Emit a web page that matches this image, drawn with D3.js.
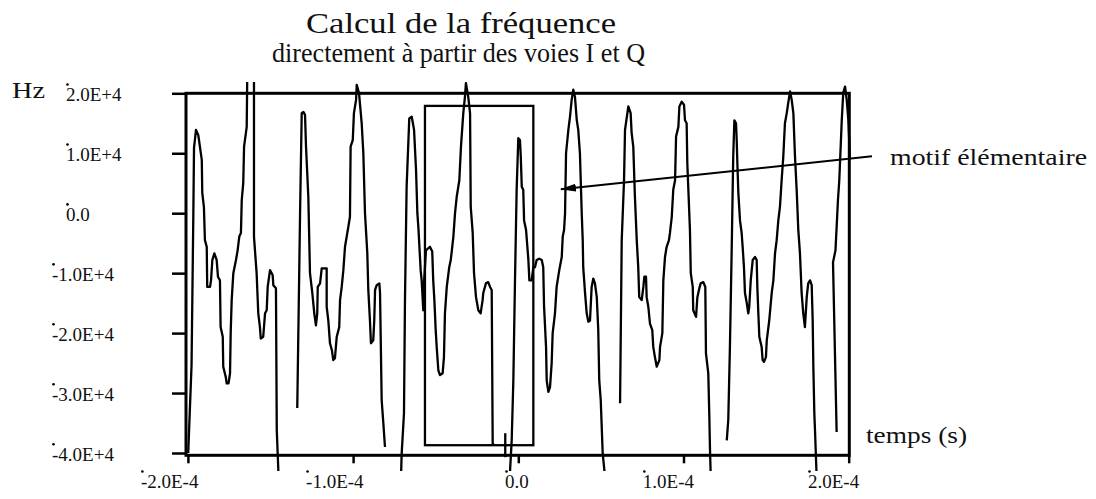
<!doctype html>
<html>
<head>
<meta charset="utf-8">
<title>Calcul de la fréquence</title>
<script src="https://d3js.org/d3.v7.min.js"></script>
<style>
  body { margin: 0; background: #fff; }
  svg { display: block; }
  text { font-family: "Liberation Serif", "Times New Roman", serif; fill: #111; }
</style>
</head>
<body>
<svg id="chart" width="1096" height="499"></svg>
<script>
// trace: time in microseconds, frequency in kHz, one sub-array per visible piece
const tUs = [
  [-199.8, -197.8, -196.7, -196.3, -195.1, -193.7, -191.6, -191.3, -190.3, -189.7, -188.6, -188.3, -186.6, -186.0, -185.2, -184.0, -182.6, -181.8, -180.6, -180.2, -178.9, -178.6, -177.1, -176.5, -175.4, -174.5, -174.1, -173.5, -172.5, -170.9, -169.9, -168.9, -167.9, -167.4, -166.5, -166.0, -164.4, -164.0, -160.0, -160.0, -158.4, -157.4, -156.4, -155.9, -154.4, -153.3, -152.3, -151.7, -150.3, -148.7, -148.3, -146.7, -146.2, -145.1],
  [-133.8, -132.1, -131.1, -130.1, -129.1, -128.5, -127.1, -126.1, -124.7, -123.5, -122.5, -121.7, -121.4, -120.0, -119.0, -116.0, -116.0, -115.0, -114.0, -112.8, -112.0, -111.0, -109.9, -108.4, -107.9, -106.9, -105.9, -104.9, -102.9, -101.9, -101.5, -100.2, -99.5, -98.2, -97.8, -96.4, -94.8, -93.8, -92.8, -91.4, -90.8, -89.8, -89.2, -87.8, -87.2, -86.7, -85.7, -84.1, -83.7, -82.7, -81.7, -80.7],
  [-71.0, -70.6, -69.2, -68.6, -67.6, -66.0, -64.5, -63.1, -61.9, -61.1, -60.5, -59.1, -58.5, -57.5, -57.1, -55.9, -53.5, -52.1, -51.5, -50.8, -50.0, -49.4, -48.4, -47.4, -45.8, -45.0, -44.4, -43.3, -41.8, -40.9, -40.3, -39.3, -38.3, -37.3, -35.7, -34.7, -33.3, -32.3, -31.7, -30.3, -29.2, -28.8, -27.6, -26.8, -25.6, -24.2, -22.8, -21.6, -21.2, -19.6, -18.2, -17.1, -16.1, -15.5, -14.7],
  [-7.9, -7.9],
  [-5.2, -4.0, -3.0, -2.0, -1.0, 0.0, 1.0, 1.5, 2.1, 3.0, 3.5, 4.7, 6.1, 6.7, 8.1, 9.1, 10.1, 11.1, 12.7, 14.2, 15.1, 15.6, 16.8, 17.2, 18.2, 19.2, 20.2, 20.8, 22.2, 23.2, 24.8, 26.3, 26.9, 27.7, 28.3, 28.9, 30.3, 31.3, 32.3, 33.3, 34.3, 35.4, 36.3, 37.3, 38.4, 39.0, 39.3, 40.4, 41.4, 42.4, 43.4, 44.4, 45.4, 46.4, 47.5, 48.4, 49.0, 49.9, 51.1, 52.5],
  [61.6, 62.6, 64.0, 64.6, 66.6, 68.0, 68.6, 69.6, 70.6, 71.7, 72.6, 73.2, 74.7, 75.7, 76.3, 77.3, 77.7, 78.7, 79.7, 81.1, 81.7, 82.7, 83.8, 85.4, 85.8, 87.2, 87.8, 88.8, 89.8, 91.2, 91.8, 92.9, 93.8, 94.9, 95.5, 96.9, 97.5, 98.9, 100.3, 100.9, 101.9, 102.3, 103.5, 103.9, 104.4, 105.6, 105.9, 107.6, 108.4, 109.6, 110.4, 112.0, 113.2, 113.6, 115.0, 115.6, 116.0, 116.5],
  [126.2, 127.1, 128.1, 129.2, 130.1, 130.8, 131.8, 132.2, 132.6, 133.2, 134.2, 135.2, 135.8, 136.6, 137.2, 138.3, 139.2, 139.8, 140.7, 141.9, 143.3, 144.3, 144.7, 145.3, 145.9, 147.3, 147.9, 148.7, 149.9, 150.4, 151.9, 153.4, 154.4, 155.4, 156.4, 157.4, 158.4, 159.4, 160.4, 161.4, 162.5, 163.4, 164.5, 165.5, 166.5, 167.5, 168.5, 169.5, 170.5, 171.5, 172.5, 173.5, 174.6, 175.5, 176.6, 177.6, 178.2, 178.6, 179.2, 179.6, 180.6],
  [192.7, 190.5, 192.0, 193.5, 194.3, 195.8, 196.7, 197.8, 198.8, 199.8, 200.8]
];
const fKHz = [
  [-40.0, -25.4, 0.0, 10.9, 13.9, 13.0, 8.9, 3.4, 1.0, -4.5, -5.6, -12.3, -12.3, -11.2, -7.8, -6.7, -7.8, -10.6, -11.2, -19.0, -20.6, -25.6, -27.3, -28.4, -28.4, -26.7, -20.0, -14.5, -10.0, -7.8, -6.2, -3.9, -3.3, 2.2, 5.0, 11.1, 14.4, 25.0, 25.0, -3.9, -10.0, -16.7, -19.0, -20.9, -20.6, -16.7, -16.2, -12.3, -9.5, -10.3, -12.0, -12.5, -36.2, -44.0],
  [-32.5, 0.0, 16.7, 16.9, 16.4, 11.1, 2.7, -10.0, -13.3, -16.7, -18.7, -16.7, -12.3, -11.7, -9.2, -9.2, -15.6, -17.9, -21.7, -22.9, -24.5, -24.2, -20.6, -19.0, -14.5, -12.3, -9.5, -5.6, -2.3, -0.6, 11.1, 12.2, 16.7, 18.9, 21.4, 20.0, 15.0, 10.0, 0.0, -6.7, -12.8, -17.9, -21.7, -21.2, -17.9, -12.8, -12.0, -11.7, -13.3, -31.2, -35.0, -39.0],
  [-44.0, -40.1, -33.4, -14.5, 4.4, 15.8, 16.1, 13.9, 7.2, 0.0, -2.3, -9.5, -11.2, -16.2, -11.7, -6.2, -5.6, -6.4, -11.2, -14.5, -19.5, -22.3, -26.2, -27.0, -26.7, -24.0, -16.7, -12.3, -9.0, -7.8, -6.4, -3.9, 0.0, 2.7, 5.5, 11.1, 16.7, 19.4, 21.7, 19.4, 16.7, 1.1, -3.3, -10.0, -14.0, -16.2, -16.7, -14.5, -13.3, -11.7, -11.5, -12.3, -12.8, -38.4, -38.7],
  [-36.7, -40.7],
  [-44.0, -37.9, -27.9, -11.2, 3.9, 12.5, 12.2, 9.4, 4.4, 3.9, -1.2, -2.8, -7.8, -11.2, -11.2, -9.0, -9.0, -7.8, -7.6, -7.8, -9.0, -15.6, -22.3, -27.9, -29.8, -29.0, -25.0, -20.0, -16.7, -12.3, -9.5, -7.3, -3.9, -2.8, 0.0, 10.0, 13.9, 16.1, 18.9, 20.6, 19.4, 15.5, 13.9, 10.0, 0.0, -4.5, -9.0, -13.3, -16.7, -18.1, -17.9, -12.3, -10.9, -11.7, -14.0, -19.5, -27.9, -31.2, -40.1, -44.0],
  [-31.7, -4.5, 5.5, 13.9, 17.8, 16.7, 13.4, 11.1, 2.7, -4.5, -9.0, -14.0, -14.5, -12.3, -10.6, -10.6, -14.0, -15.6, -18.4, -19.5, -22.3, -24.0, -25.6, -24.5, -22.3, -20.0, -11.2, -7.3, -5.6, -4.5, -3.3, -0.6, 3.9, 5.5, 12.8, 14.4, 17.8, 18.6, 18.1, 15.5, 15.0, 8.4, 0.0, -2.8, -10.0, -12.3, -16.2, -17.3, -14.0, -12.5, -11.7, -11.5, -12.3, -23.4, -26.7, -33.4, -39.0, -44.0],
  [-37.9, -34.5, -22.3, -5.6, 9.4, 15.5, 15.0, 12.2, 8.4, 3.4, -1.2, -3.3, -5.6, -9.0, -13.3, -15.0, -16.7, -15.6, -11.2, -7.8, -7.3, -7.8, -12.3, -16.7, -20.6, -22.3, -24.5, -24.8, -24.0, -21.2, -17.9, -13.3, -11.2, -6.7, -4.5, -1.2, 1.1, 5.5, 9.4, 15.0, 16.7, 18.4, 20.3, 18.9, 16.7, 9.4, 3.9, -2.8, -6.7, -13.3, -16.7, -19.0, -14.0, -11.7, -11.2, -12.0, -17.9, -25.6, -33.4, -36.2, -44.0],
  [-36.5, -8.2, -6.2, 2.2, 5.5, 15.5, 20.1, 21.1, 18.9, 15.5, 8.9]
];

const xTicks = [-2e-4, -1e-4, 0, 1e-4, 2e-4];
const yTicks = [2e4, 1e4, 0, -1e4, -2e4, -3e4, -4e4];

// "motif élémentaire" box (µs, kHz) and arrow ends (µs, kHz)
const motifT = [-56.5, 9.1];
const motifF = [-38.7, 17.9];
const arrowT = [214.1, 25.8];
const arrowF = [9.5, 4.0];

const titleLines = ["Calcul de la fréquence", "directement à partir des voies I et Q"];

var svg = d3.select("#chart");

var x = d3.scaleLinear().domain([-2e-4, 2e-4]).range([187.9, 848.7]);
var y = d3.scaleLinear().domain([-4e4, 2e4]).range([453, 93.3]);

function sci(v) {
  if (v === 0) return "0.0";
  return d3.format(".1e")(v).replace("e", "E").replace(/\u2212/g, "-");
}

// the trace, one piece per sub-array
var pieces = tUs.map((ts, i) => ts.map((t, j) => ({ t: t * 1e-6, f: fKHz[i][j] * 1000 })));

svg.append("clipPath").attr("id", "clip")
  .append("rect")
  .attr("x", 185).attr("y", 82)
  .attr("width", 666).attr("height", 389);

var line = d3.line().x(d => x(d.t)).y(d => y(d.f));

svg.append("g").attr("clip-path", "url(#clip)")
  .selectAll("path")
  .data(pieces)
  .enter()
  .append("path")
  .attr("d", line)
  .style("fill", "none")
  .style("stroke", "#000")
  .style("stroke-width", 2.3)
  .style("stroke-linejoin", "round");

// motif box
svg.append("rect")
  .attr("x", x(motifT[0] * 1e-6))
  .attr("y", y(motifF[1] * 1000))
  .attr("width", x(motifT[1] * 1e-6) - x(motifT[0] * 1e-6))
  .attr("height", y(motifF[0] * 1000) - y(motifF[1] * 1000))
  .style("fill", "none")
  .style("stroke", "#000")
  .style("stroke-width", 2.3);

// frame
var frameL = x(-2e-4) - 1.9, frameR = x(2e-4) + 0.6;
var frameT = y(2e4), frameB = y(-4e4) + 2.3;
svg.append("rect")
  .attr("x", frameL).attr("y", frameT)
  .attr("width", frameR - frameL).attr("height", frameB - frameT)
  .style("fill", "none")
  .style("stroke", "#000")
  .style("stroke-width", 3);

// y axis
var yAxis = svg.append("g")
  .attr("transform", "translate(" + frameL + ",0)")
  .call(d3.axisLeft(y).tickValues(yTicks).tickSize(14).tickFormat(sci));
yAxis.select(".domain").remove();
yAxis.selectAll("line").style("stroke", "#000").style("stroke-width", 2.5);
yAxis.selectAll("text")
  .attr("text-anchor", "start")
  .attr("x", d => (d < 0 ? 52 : 66) - frameL)
  .attr("dy", "0.38em")
  .style("font-size", "19px")
  .style("font-family", "'Liberation Serif', serif")
  .style("fill", "#111");

// x axis
var xAxis = svg.append("g")
  .attr("transform", "translate(0," + frameB + ")")
  .call(d3.axisBottom(x).tickValues(xTicks).tickSize(8).tickFormat(sci));
xAxis.select(".domain").remove();
xAxis.selectAll("line").style("stroke", "#000").style("stroke-width", 2.5);
xAxis.selectAll("text")
  .attr("text-anchor", "end")
  .attr("x", 10)
  .attr("y", 488 - frameB)
  .attr("dy", 0)
  .style("font-size", "19px")
  .style("font-family", "'Liberation Serif', serif")
  .style("fill", "#111");

// the little specks sitting on each tick label in the scan
svg.selectAll(".tick text").each(function () {
  var b = this.getBBox();
  d3.select(this.parentNode).append("circle")
    .attr("cx", b.x + 1.5)
    .attr("cy", b.y + 0.5)
    .attr("r", 1.3)
    .style("fill", "#000");
});

// arrow to the box
svg.append("defs").append("marker")
  .attr("id", "head")
  .attr("markerUnits", "userSpaceOnUse")
  .attr("viewBox", "0 0 16 10")
  .attr("refX", 15).attr("refY", 5)
  .attr("markerWidth", 16).attr("markerHeight", 10)
  .attr("orient", "auto")
  .append("path")
  .attr("d", "M0,1 L16,5 L0,9 Z")
  .style("fill", "#000");

svg.append("line")
  .attr("x1", x(arrowT[0] * 1e-6)).attr("y1", y(arrowF[0] * 1000))
  .attr("x2", x(arrowT[1] * 1e-6)).attr("y2", y(arrowF[1] * 1000))
  .style("stroke", "#000")
  .style("stroke-width", 2)
  .attr("marker-end", "url(#head)");

// texts
svg.append("text")
  .attr("x", 461).attr("y", 33)
  .attr("text-anchor", "middle")
  .attr("textLength", 310).attr("lengthAdjust", "spacingAndGlyphs")
  .style("font-size", "30px")
  .text(titleLines[0]);
svg.append("text")
  .attr("x", 458.5).attr("y", 62)
  .attr("text-anchor", "middle")
  .attr("textLength", 373).attr("lengthAdjust", "spacingAndGlyphs")
  .style("font-size", "28px")
  .text(titleLines[1]);

svg.append("text")
  .attr("x", 12).attr("y", 98)
  .attr("textLength", 33).attr("lengthAdjust", "spacingAndGlyphs")
  .style("font-size", "24px")
  .text("Hz");

svg.append("text")
  .attr("x", 890).attr("y", 165)
  .attr("textLength", 197).attr("lengthAdjust", "spacingAndGlyphs")
  .style("font-size", "24px")
  .text("motif élémentaire");

svg.append("text")
  .attr("x", 866).attr("y", 443)
  .attr("textLength", 101).attr("lengthAdjust", "spacingAndGlyphs")
  .style("font-size", "24px")
  .text("temps (s)");
</script>
</body>
</html>
